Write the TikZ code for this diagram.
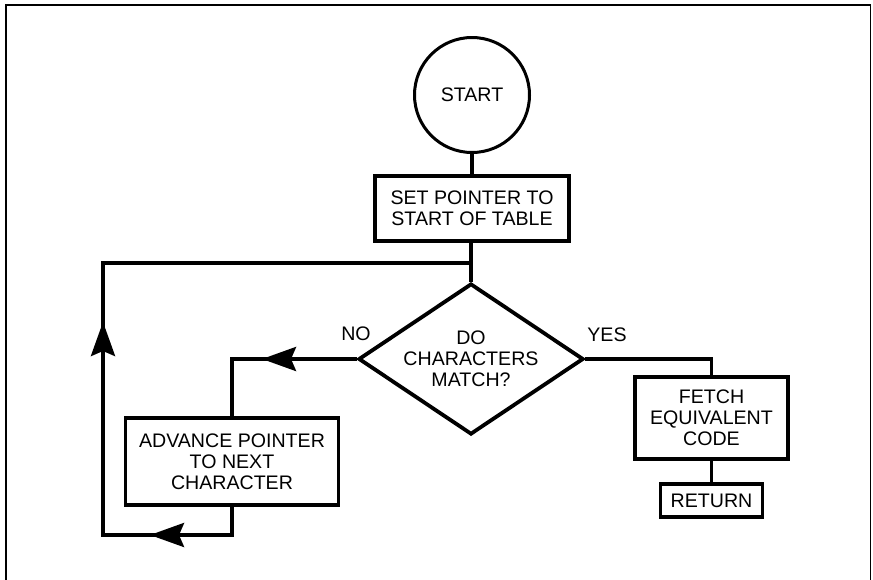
\documentclass[tikz,border=0pt]{standalone}
\usepackage{fontspec}
\setmainfont{Liberation Sans}
\usetikzlibrary{shapes.geometric,arrows.meta}
\begin{document}
\begin{tikzpicture}[x=1pt,y=-1pt,
  every node/.style={font=\fontsize{19.6}{21}\selectfont, align=center, inner sep=0pt},
  conn/.style={line width=3.8pt},
  boxnode/.style={draw, line width=3.8pt, rectangle},
  arr/.style={line width=3.8pt, -{Stealth[length=34pt,width=24pt,inset=5pt]}},
  frame/.style={line width=1.5pt}]
\clip (0,0) rectangle (873,579);
\fill[white] (0,0) rectangle (873,579);
\draw[frame] (6,5) rectangle (870.5,600);

% nodes
\node[draw, circle, line width=3pt, minimum size=115pt] (start) at (472,95) {START};
\node[boxnode, minimum width=194pt, minimum height=65pt] (set) at (472,208.5) {SET POINTER TO\\START OF TABLE};
\node[draw, diamond, line width=3.8pt, aspect=1.49, minimum width=225pt, minimum height=151pt] (dec) at (471,359) {DO\\CHARACTERS\\MATCH?};
\node[boxnode, minimum width=213pt, minimum height=87pt] (adv) at (232,461.5) {ADVANCE POINTER\\TO NEXT\\CHARACTER};
\node[boxnode, minimum width=153pt, minimum height=82pt] (fetch) at (711.5,418) {FETCH\\EQUIVALENT\\CODE};
\node[boxnode, minimum width=102pt, minimum height=33pt] (ret) at (711.5,500.5) {RETURN};

\node (no) at (356,334) {NO};
\node (yes) at (607,334.5) {YES};

% coordinates
\coordinate (jn) at (471,263);
\coordinate (lp1) at (103,263);
\coordinate (lp2) at (103,535);
\coordinate (lp3) at (232,535);
\coordinate (nl) at (232,359);
\coordinate (yr) at (711.5,359);
\coordinate (a1s) at (300,359);
\coordinate (a1e) at (262,359);
\coordinate (a2s) at (188,535);
\coordinate (a2e) at (150,535);
\coordinate (a3s) at (103,360);
\coordinate (a3e) at (103,322);

% connectors
\draw[conn] (start.south) -- (set.north);
\draw[conn] (set.south -| dec.north) -- (dec.north);
\draw[conn] (dec.west) -- (nl) -- (adv.north);
\draw[conn] (adv.south) -- (lp3) -- (lp2) -- (lp1) -- (jn);
\draw[conn] (dec.east) -- (yr) -- (fetch.north);
\draw[conn] (fetch.south) -- (ret.north);

% arrowheads
\draw[arr] (a1s) -- (a1e);
\draw[arr] (a2s) -- (a2e);
\draw[arr] (a3s) -- (a3e);
\end{tikzpicture}
\end{document}
